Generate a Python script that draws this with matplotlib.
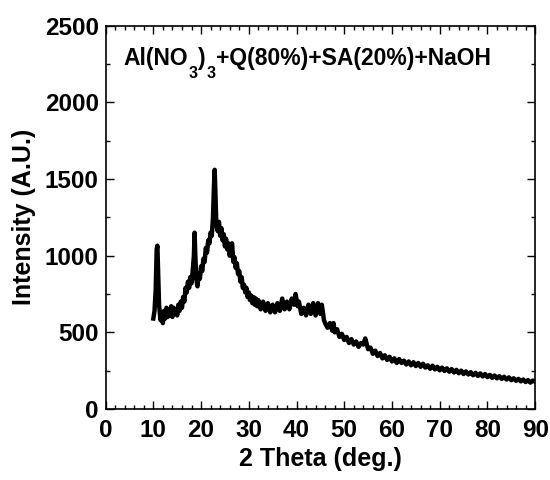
import numpy as np
import matplotlib
matplotlib.use('Agg')
import matplotlib.pyplot as plt
from matplotlib.ticker import MultipleLocator

plt.rcParams['font.family'] = ['Liberation Sans', 'DejaVu Sans']
plt.rcParams['font.weight'] = 'bold'

# XRD pattern (2 theta in deg., intensity in A.U.)
two_theta = [
    10.0, 10.25, 10.5, 10.7, 10.85, 11.0, 11.2, 11.5, 11.75, 12.0,
    12.25, 12.5, 12.75, 13.0, 13.25, 13.5, 13.75, 14.0, 14.25, 14.5,
    14.75, 15.0, 15.25, 15.5, 15.75, 16.0, 16.25, 16.5, 16.75, 17.0,
    17.25, 17.5, 17.75, 18.0, 18.25, 18.5, 18.65, 18.8, 19.0, 19.25,
    19.5, 19.75, 20.0, 20.25, 20.5, 20.75, 21.0, 21.25, 21.5, 21.75,
    22.0, 22.25, 22.5, 22.7, 22.85, 23.0, 23.2, 23.5, 23.75, 24.0,
    24.25, 24.5, 24.75, 25.0, 25.25, 25.5, 25.75, 26.0, 26.25, 26.5,
    26.75, 27.0, 27.25, 27.5, 27.75, 28.0, 28.25, 28.5, 28.75, 29.0,
    29.25, 29.5, 29.75, 30.0, 30.25, 30.5, 30.75, 31.0, 31.25, 31.5,
    31.75, 32.0, 32.5, 33.0, 33.5, 34.0, 34.5, 35.0, 35.5, 36.0,
    36.5, 37.0, 37.5, 38.0, 38.5, 39.0, 39.5, 39.8, 40.25, 40.5,
    41.0, 41.5, 42.0, 42.5, 43.0, 43.5, 44.0, 44.5, 45.0, 45.3,
    45.75, 46.0, 46.5, 47.0, 47.5, 47.75, 48.0, 48.5, 49.0, 49.5,
    50.0, 50.5, 51.0, 51.5, 52.0, 52.5, 53.0, 53.5, 54.0, 54.4,
    55.0, 55.5, 56.0, 56.5, 57.0, 57.5, 58.0, 58.5, 59.0, 59.5,
    60.0, 60.5, 61.0, 61.5, 62.0, 62.5, 63.0, 63.5, 64.0, 64.5,
    65.0, 65.5, 66.0, 66.5, 67.0, 67.5, 68.0, 68.5, 69.0, 69.5,
    70.0, 70.5, 71.0, 71.5, 72.0, 72.5, 73.0, 73.5, 74.0, 74.5,
    75.0, 75.5, 76.0, 76.5, 77.0, 77.5, 78.0, 78.5, 79.0, 79.5,
    80.0, 80.5, 81.0, 81.5, 82.0, 82.5, 83.0, 83.5, 84.0, 84.5,
    85.0, 85.5, 86.0, 86.5, 87.0, 87.5, 88.0, 88.5, 89.0, 89.5,
    90.0,
]
intensity = [
    590, 640, 780, 1040, 1065, 900, 680, 580, 620, 560,
    640, 590, 660, 600, 650, 610, 670, 600, 660, 620,
    650, 610, 680, 640, 700, 660, 730, 700, 790, 760,
    830, 790, 860, 820, 900, 1000, 1150, 1000, 850, 800,
    880, 850, 930, 900, 980, 960, 1050, 1020, 1100, 1080,
    1150, 1130, 1250, 1450, 1560, 1420, 1200, 1160, 1220, 1130,
    1180, 1100, 1140, 1060, 1110, 1040, 1080, 1000, 1050, 1080,
    960, 990, 920, 950, 880, 900, 830, 860, 790, 810,
    760, 790, 730, 760, 710, 740, 690, 730, 680, 720,
    670, 710, 650, 700, 640, 690, 630, 680, 630, 690,
    640, 720, 650, 700, 650, 720, 680, 750, 670, 700,
    620, 660, 610, 680, 620, 690, 610, 690, 620, 680,
    580, 560, 530, 560, 510, 560, 500, 520, 470, 490,
    450, 470, 430, 455, 420, 440, 405, 430, 420, 460,
    390, 400, 360, 380, 345, 365, 330, 350, 320, 340,
    310, 330, 300, 325, 300, 315, 290, 310, 285, 305,
    280, 300, 275, 295, 270, 285, 262, 282, 258, 275,
    252, 270, 248, 265, 243, 260, 238, 255, 233, 250,
    228, 245, 225, 240, 220, 236, 215, 232, 212, 228,
    208, 222, 203, 218, 200, 214, 196, 210, 192, 206,
    188, 200, 184, 196, 180, 192, 176, 188, 172, 185,
    178,
]

# sample name split into (text, is_subscript) pieces
label_parts = [('Al(NO', False), ('3', True), (')', False), ('3', True),
               ('+Q(80%)+SA(20%)+NaOH', False)]

fig = plt.figure(figsize=(5.5, 4.8), dpi=100)
ax = fig.add_axes([0.192, 0.148, 0.781, 0.7985])

ax.plot(two_theta, intensity, color='black', linewidth=3.2)

ax.set_xlim(0, 90)
ax.set_ylim(0, 2500)
ax.xaxis.set_major_locator(MultipleLocator(10))
ax.xaxis.set_minor_locator(MultipleLocator(2))
ax.yaxis.set_major_locator(MultipleLocator(500))
ax.yaxis.set_minor_locator(MultipleLocator(250))
ax.tick_params(which='both', direction='in', top=True, right=True,
               width=1, labelsize=17.5)
ax.tick_params(which='major', length=6)
ax.tick_params(which='minor', length=3)
ax.tick_params(axis='x', pad=7)
ax.tick_params(axis='y', pad=5)
for lab in ax.get_xticklabels() + ax.get_yticklabels():
    lab.set_fontweight('bold')
for s in ax.spines.values():
    s.set_linewidth(1.2)

ax.set_xlabel('2 Theta (deg.)', fontsize=18, fontweight='bold', labelpad=4)
ax.set_ylabel('Intensity (A.U.)', fontsize=18, fontweight='bold', labelpad=6)

# chain the pieces so the subscripts sit fully under the baseline
prev = ax.text(0.042, 0.898, label_parts[0][0], transform=ax.transAxes,
               fontsize=16.5, fontweight='bold', ha='left', va='baseline')
prev_sub = False
for txt, sub in label_parts[1:]:
    if sub:
        dy = -8
    elif prev_sub:
        dy = 8
    else:
        dy = 0
    prev = ax.annotate(txt, xy=(1, 0), xycoords=prev,
                       xytext=(0.3, dy), textcoords='offset points',
                       fontsize=11.5 if sub else 16.5, fontweight='bold',
                       ha='left', va='bottom')
    prev_sub = sub

fig.savefig('out.png', dpi=100)
